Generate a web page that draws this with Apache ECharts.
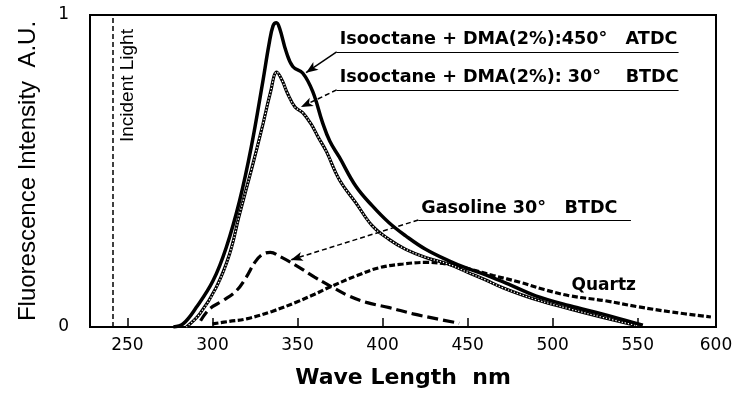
<!DOCTYPE html>
<html>
<head>
<meta charset="utf-8">
<script src="https://cdn.jsdelivr.net/npm/echarts@6/dist/echarts.min.js"></script>
<style>
  html, body { margin: 0; padding: 0; background: #fff; }
  #chart { width: 751px; height: 394px; }
</style>
</head>
<body>
<div id="chart"></div>
<script>
// axis range (ticks every 50 nm)
const xMin = 228, xMax = 596;
const xTickValues = [250, 300, 350, 400, 450, 500, 550];
const xTickLabels = ['250', '300', '350', '400', '450', '500', '550', '600'];
const yTickLabels = ['0', '1'];

// [wavelength nm, intensity]
const atdc = [[277,0],[282.7,0.01],[290.5,0.063],[300.3,0.148],[308.1,0.255],[315.9,0.404],[322.7,0.574],
  [329.6,0.787],[333.2,0.905],[335.6,0.965],[337.6,0.975],[339.6,0.955],[343.3,0.883],[347.2,0.835],[353,0.814],
  [358.9,0.755],[364.7,0.655],[369,0.595],[374.5,0.545],[384.3,0.451],[394,0.388],[403.8,0.334],
  [413.6,0.292],[425.3,0.249],[439,0.212],[448.7,0.19],[461,0.166],[475,0.135],[490,0.1],[510,0.068],
  [529,0.042],[545,0.018],[553,0.006]];
const btdc = [[284.7,0],[292.5,0.042],[302.2,0.127],[310,0.233],[315.9,0.361],[322.7,0.5],[329.6,0.649],
  [334,0.75],[337.8,0.817],[341,0.79],[344,0.75],[348.5,0.705],[353,0.687],[358,0.65],[362,0.61],
  [367,0.562],[374.5,0.473],[384.3,0.398],[394,0.324],[403.8,0.281],[413.6,0.249],[425.3,0.223],
  [439,0.201],[450,0.175],[460,0.152],[471,0.125],[490,0.088],[510,0.058],[530,0.03],[549,0.005]];
const gasoline = [[293,0.02],[298.3,0.058],[306,0.084],[314,0.116],[319.8,0.159],[325,0.208],
  [329.5,0.233],[334,0.239],[340,0.225],[349.5,0.196],[360,0.16],[369,0.132],[380,0.1],[390.5,0.079],
  [404,0.062],[418,0.042],[432,0.026],[445,0.012]];
const quartz = [[300,0.01],[310,0.018],[320,0.026],[335,0.05],[349.5,0.08],[360,0.105],[369,0.128],
  [385,0.165],[398,0.19],[412,0.202],[426,0.207],[440,0.2],[451.6,0.185],[465,0.165],[481,0.143],
  [495,0.12],[510,0.1],[531,0.084],[550,0.065],[570,0.048],[593,0.032]];
const incidentX = 241.5;

// annotation text, underline ends and arrow tip, in data units
const notes = [
  {text: 'Isooctane + DMA(2%):450°   ATDC', from: [373, 0.882], to: [574, 0.882], tip: [355, 0.815], dash: 'solid'},
  {text: 'Isooctane + DMA(2%): 30°    BTDC', from: [373, 0.76], to: [574, 0.76], tip: [352, 0.705], dash: [5, 3]},
  {text: 'Gasoline 30°   BTDC', from: [421, 0.343], to: [546, 0.343], tip: [346, 0.215], dash: [5, 3]}
];
const quartzNote = {text: 'Quartz', at: [530, 0.134]};

const font = 'DejaVu Sans';
const chart = echarts.init(document.getElementById('chart'));

const noteLines = [];
notes.forEach(n => {
  noteLines.push([
    {coord: n.from, symbol: 'none',
      label: {show: true, position: 'insideStartTop', distance: 3, formatter: n.text,
        color: '#000', fontFamily: font, fontWeight: 'bold', fontSize: 17.6},
      lineStyle: {type: 'solid', width: 1.2, color: '#000'}},
    {coord: n.to, symbol: 'none'}
  ]);
  noteLines.push([
    {coord: n.from, symbol: 'none', label: {show: false},
      lineStyle: {type: n.dash, width: 1.5, color: '#000'}},
    {coord: n.tip, symbol: 'arrow', symbolSize: [7, 12]}
  ]);
});

const base = {type: 'line', showSymbol: false, smooth: 0.4, animation: false, silent: true};

chart.setOption({
  animation: false,
  grid: {left: 90, right: 35, top: 15, bottom: 66, show: true, borderColor: '#000', borderWidth: 2},
  xAxis: {
    type: 'value', min: xMin, max: xMax,
    axisLine: {show: true, lineStyle: {color: '#000', width: 2}},
    axisTick: {show: true, inside: true, length: 9, customValues: xTickValues, lineStyle: {color: '#000', width: 1.5}},
    axisLabel: {
      customValues: xTickValues.concat([xMax]),
      formatter: (v) => xTickLabels[v === xMax ? xTickLabels.length - 1 : xTickValues.indexOf(v)],
      color: '#000', fontFamily: font, fontSize: 17, margin: 10
    },
    splitLine: {show: false},
    name: 'Wave Length  nm', nameLocation: 'middle', nameGap: 40,
    nameTextStyle: {color: '#000', fontFamily: font, fontWeight: 'bold', fontSize: 22}
  },
  yAxis: {
    type: 'value', min: 0, max: 1, interval: 1,
    axisLine: {show: true, lineStyle: {color: '#000', width: 2}},
    axisTick: {show: false},
    axisLabel: {formatter: (v) => yTickLabels[v], color: '#000', fontFamily: font, fontSize: 17, margin: 21},
    splitLine: {show: false},
    name: 'Fluorescence Intensity  A.U.', nameLocation: 'middle', nameGap: 50,
    nameTextStyle: {color: '#000', fontFamily: 'Liberation Sans', fontSize: 24}
  },
  series: [
    Object.assign({}, base, {name: 'Quartz', data: quartz, z: 2,
      lineStyle: {color: '#000', width: 3.2, type: [6, 2.5]}}),
    Object.assign({}, base, {name: 'Gasoline 30° BTDC', data: gasoline, z: 2,
      lineStyle: {color: '#000', width: 3.2, type: [11, 5]}}),
    Object.assign({}, base, {name: 'BTDC', data: btdc, z: 3,
      lineStyle: {color: '#000', width: 3.2}}),
    Object.assign({}, base, {name: 'BTDC dots', data: btdc, z: 4,
      lineStyle: {color: '#fff', width: 1.3, type: [1.3, 1.9]}}),
    Object.assign({}, base, {name: 'ATDC', data: atdc, z: 5,
      lineStyle: {color: '#000', width: 3.5},
      markLine: {silent: true, animation: false, symbol: ['none', 'none'], data: noteLines}}),
    Object.assign({}, base, {name: 'Incident', data: [], z: 1,
      markLine: {silent: true, animation: false, symbol: ['none', 'none'], label: {show: false},
        lineStyle: {color: '#000', type: [5, 3], width: 1.5},
        data: [{xAxis: incidentX}]}})
  ]
});

// texts placed next to the incident line and the quartz curve
const pInc = chart.convertToPixel({gridIndex: 0}, [incidentX, 0.955]);
const pQ = chart.convertToPixel({gridIndex: 0}, quartzNote.at);
chart.setOption({
  graphic: [
    {type: 'text', x: pInc[0] + 15, y: pInc[1], rotation: Math.PI / 2,
      style: {text: 'Incident Light', fill: '#000', font: '19px "Liberation Sans"', align: 'right', verticalAlign: 'middle'}},
    {type: 'text', x: pQ[0], y: pQ[1],
      style: {text: quartzNote.text, fill: '#000', font: 'bold 17px "DejaVu Sans"', align: 'center', verticalAlign: 'middle'}}
  ]
});
</script>
</body>
</html>
